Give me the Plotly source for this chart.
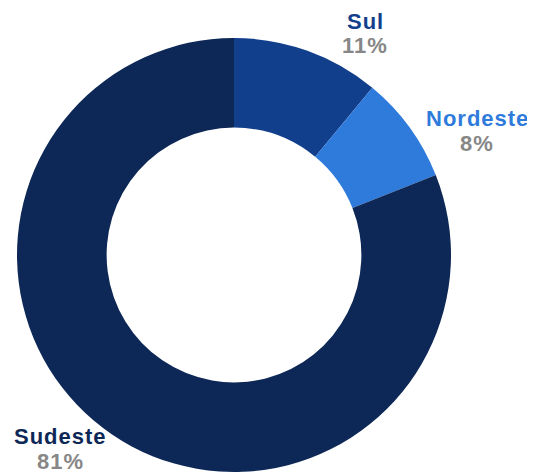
import plotly.graph_objects as go

labels = ["Sul", "Nordeste", "Sudeste"]
values = [11, 8, 81]
colors = ["#123f8c", "#2f7bdc", "#0d2856"]
label_colors = ["#143f8c", "#2f7bdc", "#0d2856"]
pct_color = "#878787"

W, H = 535, 475
OFF = 8  # page body margin offset

fig = go.Figure(go.Pie(
    labels=labels,
    values=values,
    marker=dict(colors=colors, line=dict(width=0)),
    hole=0.587,
    sort=False,
    direction="clockwise",
    rotation=0,
    textinfo="none",
    hoverinfo="label+percent",
    domain=dict(x=[(17 - OFF) / W, (451 - OFF) / W],
                y=[1 - (472 - OFF) / H, 1 - (38 - OFF) / H]),
    showlegend=False,
))

# annotation centers in pixels (x, y of label line; percentage line below)
pos = [(365, 21), (477, 118), (60, 436)]
anns = []
for (px, py), lab, v, c in zip(pos, labels, values, label_colors):
    px -= OFF
    py -= OFF
    anns.append(dict(x=px / W, y=1 - py / H, xref="paper", yref="paper",
                     text=f"<span style='letter-spacing:1px'><b>{lab}</b></span>", showarrow=False,
                     font=dict(family="Liberation Sans, Arial", size=22, color=c),
                     xanchor="center", yanchor="middle"))
    anns.append(dict(x=px / W, y=1 - (py + 25) / H, xref="paper", yref="paper",
                     text=f"<span style='letter-spacing:1px'><b>{v}%</b></span>", showarrow=False,
                     font=dict(family="Liberation Sans, Arial", size=22, color=pct_color),
                     xanchor="center", yanchor="middle"))

fig.update_layout(
    width=W, height=H,
    margin=dict(l=0, r=0, t=0, b=0),
    paper_bgcolor="white", plot_bgcolor="white",
    annotations=anns,
)
fig.write_html("out.html")
